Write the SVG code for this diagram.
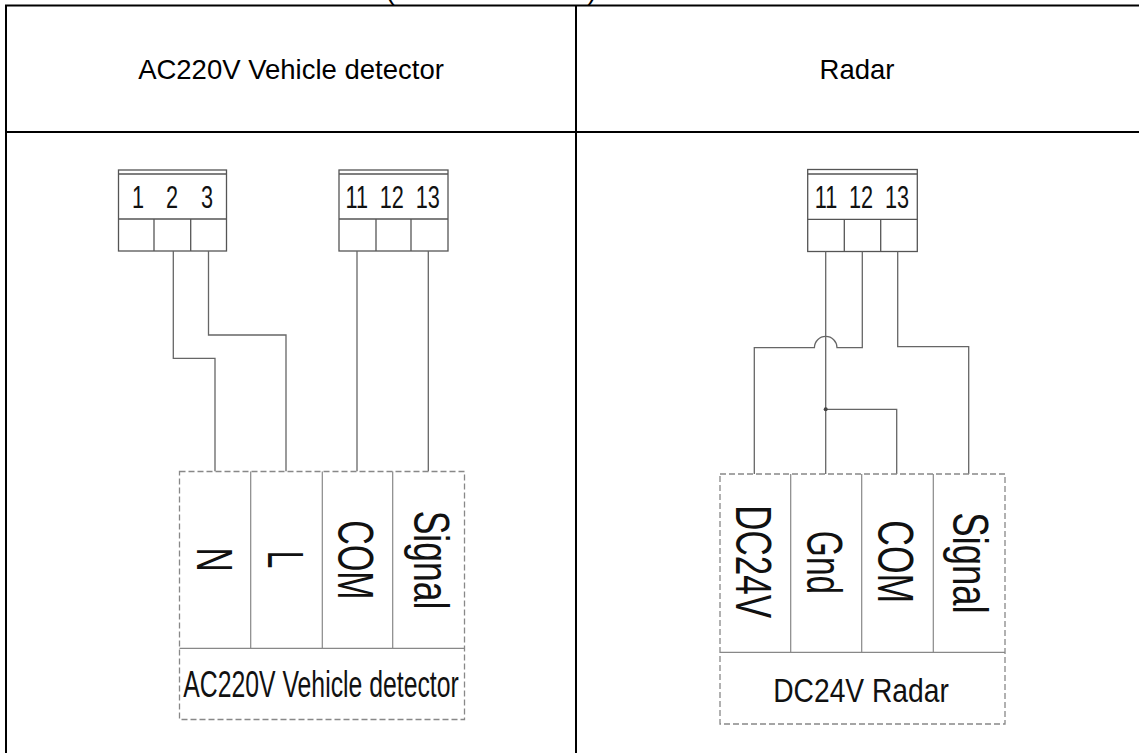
<svg xmlns="http://www.w3.org/2000/svg" width="1139" height="753" viewBox="0 0 1139 753">
<style>
.tbl{stroke:#000;stroke-width:2;fill:none}
.term{stroke:#555;stroke-width:1.3;fill:#fff}
.tl{stroke:#555;stroke-width:1.3;fill:none}
.wire{stroke:#666;stroke-width:1.3;fill:none}
.dbox{stroke:#888;stroke-width:1.3;stroke-dasharray:6,3;fill:#fff}
.div{stroke:#888;stroke-width:1.2;fill:none}
.hdr{font-family:"Liberation Sans",Arial,sans-serif;font-size:27.5px;fill:#000;text-anchor:middle}
.dig{font-family:"Liberation Sans",Arial,sans-serif;font-size:31px;fill:#111;text-anchor:middle}
.vl{font-family:"Liberation Sans",Arial,sans-serif;font-size:50px;fill:#111;text-anchor:middle}
.bl{font-family:"Liberation Sans",Arial,sans-serif;fill:#111;text-anchor:middle}
</style>
<rect width="1139" height="753" fill="#fff"/>
<g id="table">
<text class="hdr" x="390" y="-1">(</text>
<text class="hdr" x="592" y="-1">)</text>
<line class="tbl" x1="5" y1="5.5" x2="1139" y2="5.5"/>
<line class="tbl" x1="6" y1="5" x2="6" y2="753"/>
<line class="tbl" x1="576" y1="5" x2="576" y2="753"/>
<line class="tbl" x1="6" y1="132" x2="1139" y2="132"/>
<text class="hdr" x="291" y="78.5">AC220V Vehicle detector</text>
<text class="hdr" x="857" y="78.5">Radar</text>
</g>
<g id="term-left-123">
<rect class="term" x="118.5" y="170" width="108" height="81"/>
<line class="tl" x1="118.5" y1="174" x2="226.5" y2="174"/>
<line class="tl" x1="118.5" y1="219" x2="226.5" y2="219"/>
<line class="tl" x1="154" y1="219" x2="154" y2="251"/>
<line class="tl" x1="190.7" y1="219" x2="190.7" y2="251"/>
<text class="dig" transform="translate(138,207.5) scale(0.7,1)">1</text>
<text class="dig" transform="translate(172,207.5) scale(0.7,1)">2</text>
<text class="dig" transform="translate(207,207.5) scale(0.7,1)">3</text>
</g>
<g id="term-left-111213">
<rect class="term" x="339" y="170" width="109" height="81"/>
<line class="tl" x1="339" y1="174" x2="448" y2="174"/>
<line class="tl" x1="339" y1="219" x2="448" y2="219"/>
<line class="tl" x1="376" y1="219" x2="376" y2="251"/>
<line class="tl" x1="411" y1="219" x2="411" y2="251"/>
<text class="dig" transform="translate(356.8,207.5) scale(0.7,1)">11</text>
<text class="dig" transform="translate(391.7,207.5) scale(0.7,1)">12</text>
<text class="dig" transform="translate(427.8,207.5) scale(0.7,1)">13</text>
</g>
<g id="term-right-111213">
<rect class="term" x="807.7" y="169.5" width="109.6" height="82"/>
<line class="tl" x1="807.7" y1="174" x2="917.3" y2="174"/>
<line class="tl" x1="807.7" y1="219.3" x2="917.3" y2="219.3"/>
<line class="tl" x1="844.3" y1="219.3" x2="844.3" y2="251.5"/>
<line class="tl" x1="880.7" y1="219.3" x2="880.7" y2="251.5"/>
<text class="dig" transform="translate(826,207.7) scale(0.7,1)">11</text>
<text class="dig" transform="translate(861,207.7) scale(0.7,1)">12</text>
<text class="dig" transform="translate(897,207.7) scale(0.7,1)">13</text>
</g>
<g id="connectors">
<path class="wire" d="M173.3 251 V358.3 H215 V471.5"/>
<path class="wire" d="M208.5 251 V335 H286 V471.5"/>
<path class="wire" d="M357 251 V471.5"/>
<path class="wire" d="M428.3 251 V471.5"/>
<path class="wire" d="M825.7 251.5 V474"/>
<path class="wire" d="M862.3 251.5 V347.7 H837 A11.3 11.3 0 0 0 814.4 347.7 H754.3 V474"/>
<path class="wire" d="M897.7 251.5 V346.7 H968.7 V474"/>
<path class="wire" d="M825.7 409.3 H896.7 V474"/>
<circle cx="825.7" cy="409.3" r="2" fill="#444"/>
</g>
<g id="ac220v-detector">
<rect class="dbox" x="179.5" y="471.5" width="285" height="248"/>
<line class="div" x1="250.7" y1="471.5" x2="250.7" y2="648.3"/>
<line class="div" x1="322.3" y1="471.5" x2="322.3" y2="648.3"/>
<line class="div" x1="392.7" y1="471.5" x2="392.7" y2="648.3"/>
<line class="div" x1="179.5" y1="648.3" x2="464.5" y2="648.3"/>
<text class="vl" transform="translate(214.5,559.5) rotate(90) scale(0.67,1)" y="17.5">N</text>
<text class="vl" transform="translate(285.7,559.5) rotate(90) scale(0.64,1)" y="17.5">L</text>
<text class="vl" transform="translate(356.5,560) rotate(90) scale(0.68,1)" y="18">COM</text>
<text class="vl" transform="translate(431.7,560) rotate(90) scale(0.71,1)" y="18">Signal</text>
<text class="bl" font-size="37" transform="translate(321,697) scale(0.67,1)">AC220V Vehicle detector</text>
</g>
<g id="dc24v-radar">
<rect class="dbox" x="720" y="474" width="285" height="250"/>
<line class="div" x1="790.7" y1="474" x2="790.7" y2="652.3"/>
<line class="div" x1="861.7" y1="474" x2="861.7" y2="652.3"/>
<line class="div" x1="933.3" y1="474" x2="933.3" y2="652.3"/>
<line class="div" x1="720" y1="652.3" x2="1005" y2="652.3"/>
<text class="vl" transform="translate(753.7,561.7) rotate(90) scale(0.70,1)" y="18">DC24V</text>
<text class="vl" transform="translate(825,562.5) rotate(90) scale(0.67,1)" y="18">Gnd</text>
<text class="vl" transform="translate(896.2,561.7) rotate(90) scale(0.71,1)" y="18">COM</text>
<text class="vl" transform="translate(971,563) rotate(90) scale(0.73,1)" y="18">Signal</text>
<text class="bl" font-size="34" transform="translate(861,702.3) scale(0.83,1)">DC24V Radar</text>
</g>
</svg>
